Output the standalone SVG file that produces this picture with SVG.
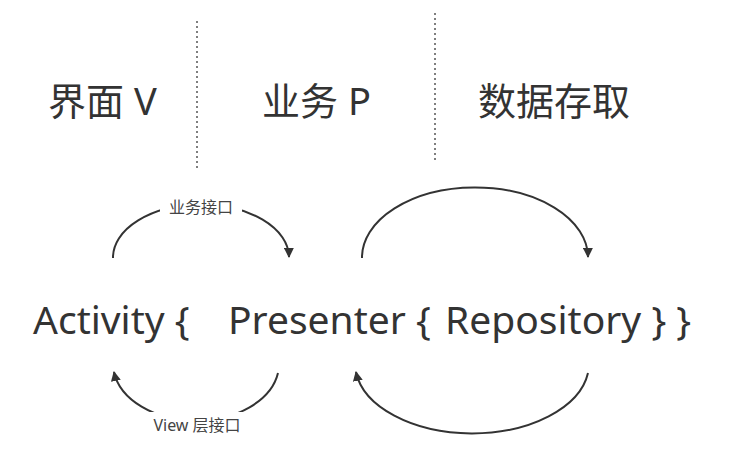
<svg xmlns="http://www.w3.org/2000/svg" width="734" height="459" viewBox="0 0 734 459">
<defs>
<style>
.t{font-family:"Noto Sans","Noto Sans CJK SC",sans-serif;fill:#333}
.title{font-size:38px}
.main{font-size:39px}
.lbl{font-size:16px;fill:#444}
.arc{fill:none;stroke:#333;stroke-width:2}
.div{stroke:#555;stroke-width:1.5;stroke-dasharray:2 3}
</style>
<marker id="ah" viewBox="0 0 10 10" refX="9" refY="5" markerWidth="10" markerHeight="10" markerUnits="userSpaceOnUse" orient="auto">
<path d="M0,0 L10,5 L0,10 z" fill="#333"/>
</marker>
</defs>
<rect width="734" height="459" fill="#fff"/>
<g id="dividers">
<line class="div" x1="197" y1="21" x2="197" y2="169"/>
<line class="div" x1="435" y1="13" x2="435" y2="162"/>
</g>
<g id="header-v"><text class="t title" x="48" y="115">界面 V</text></g>
<g id="header-p"><text class="t title" x="262" y="115">业务 P</text></g>
<g id="header-data"><text class="t title" x="478" y="115">数据存取</text></g>
<g id="code"><text class="t main" y="334"><tspan x="33">Activity {</tspan><tspan x="228">Presenter {</tspan><tspan x="445">Repository } }</tspan></text></g>
<g id="connectors">
<path class="arc" d="M113,258 A88,53 0 0 1 289,257" marker-end="url(#ah)"/>
<path class="arc" d="M278,373 A83,57 0 0 1 114,372" marker-end="url(#ah)"/>
<path class="arc" d="M362,258 A113,70 0 0 1 588,257" marker-end="url(#ah)"/>
<path class="arc" d="M588,373 A117,70 0 0 1 356,372" marker-end="url(#ah)"/>
</g>
<g id="label-business">
<rect x="160" y="196" width="82" height="22" fill="#fff"/>
<text class="t lbl" x="201" y="213" text-anchor="middle">业务接口</text>
</g>
<g id="label-view">
<rect x="139" y="412" width="116" height="24" fill="#fff"/>
<text class="t lbl" x="197" y="431" text-anchor="middle">View 层接口</text>
</g>
</svg>
